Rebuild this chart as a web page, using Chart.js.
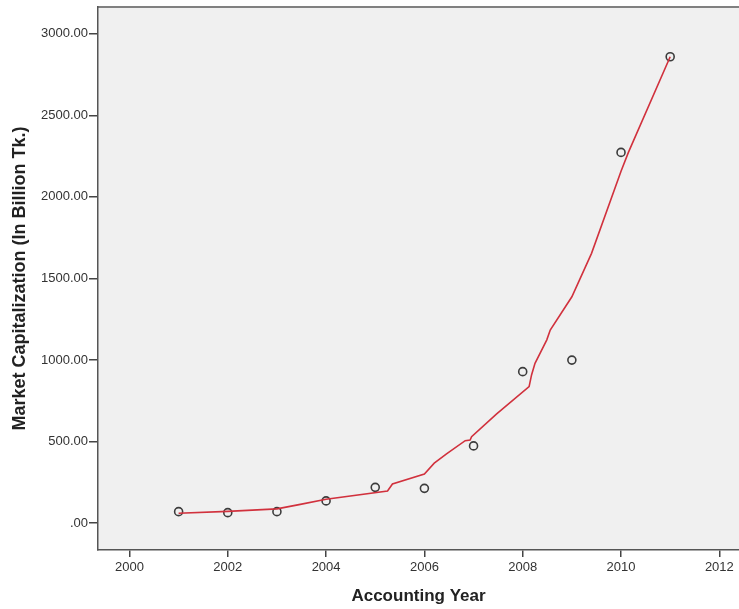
<!DOCTYPE html>
<html>
<head>
<meta charset="utf-8">
<script src="https://cdn.jsdelivr.net/npm/chart.js@4/dist/chart.umd.min.js"></script>
<style>
  html, body { margin: 0; padding: 0; background: #fff; }
  canvas { display: block; }
</style>
</head>
<body>
<canvas id="chart" width="739" height="609"></canvas>
<script>
// observed values (circles)
const years = [2001, 2002, 2003, 2004, 2005, 2006, 2007, 2008, 2009, 2010, 2011];
const marketCap = [71, 65, 71, 137, 220, 214, 474, 929, 1000, 2273, 2859];

// loess fit line
const fitYears = [2001, 2002, 2003, 2003.45, 2004, 2005.25, 2005.35, 2006.0, 2006.2, 2006.45, 2006.83, 2006.93, 2006.96, 2007.47, 2008.13, 2008.18, 2008.25, 2008.49, 2008.56, 2009.0, 2009.4, 2010.0, 2010.15, 2011];
const fitValues = [61, 73, 88, 114, 147, 198, 241, 302, 368, 425, 506, 510, 531, 670, 837, 909, 980, 1124, 1184, 1388, 1654, 2157, 2273, 2859];

const xTicks = [2000, 2002, 2004, 2006, 2008, 2010, 2012];
const yTicks = [0, 500, 1000, 1500, 2000, 2500, 3000];

const frame = {
  id: 'frame',
  beforeDraw(chart) {
    const { ctx, chartArea: a } = chart;
    ctx.save();
    ctx.fillStyle = '#f0f0f0';
    ctx.fillRect(a.left, a.top, a.right - a.left, a.bottom - a.top);
    ctx.strokeStyle = '#808080';
    ctx.lineWidth = 2;
    ctx.beginPath();
    ctx.moveTo(a.left, a.top);
    ctx.lineTo(a.right, a.top);
    ctx.stroke();
    ctx.restore();
  }
};

new Chart(document.getElementById('chart').getContext('2d'), {
  data: {
    datasets: [
      {
        type: 'line',
        label: 'Fit',
        data: fitYears.map((x, i) => ({ x: x, y: fitValues[i] })),
        borderColor: '#d1313d',
        borderWidth: 1.6,
        pointRadius: 0,
        tension: 0,
        fill: false
      },
      {
        type: 'scatter',
        label: 'Market Capitalization',
        data: years.map((x, i) => ({ x: x, y: marketCap[i] })),
        pointStyle: 'circle',
        pointRadius: 4,
        pointBorderWidth: 1.6,
        pointBorderColor: '#3c3c3c',
        pointBackgroundColor: 'rgba(0,0,0,0)'
      }
    ]
  },
  options: {
    responsive: false,
    animation: false,
    layout: { autoPadding: false, padding: { top: 7, right: 0, left: 0, bottom: 0 } },
    plugins: { legend: { display: false }, tooltip: { enabled: false } },
    scales: {
      x: {
        type: 'linear',
        min: 1999.36,
        max: 2012.4,
        afterBuildTicks: s => { s.ticks = xTicks.map(v => ({ value: v })); },
        afterFit: s => { s.height = 59; s.paddingLeft = 0; s.paddingRight = 0; },
        border: { display: true, color: '#555', width: 1.5 },
        grid: { drawOnChartArea: false, drawTicks: true, tickLength: 7, color: '#444', lineWidth: 1.5 },
        ticks: {
          color: '#333',
          font: { family: 'Liberation Sans, Arial, sans-serif', size: 13 },
          padding: 3,
          maxRotation: 0,
          callback: v => String(v)
        },
        title: {
          display: true,
          text: 'Accounting Year',
          color: '#222',
          font: { family: 'Liberation Sans, Arial, sans-serif', size: 17, weight: 'bold' },
          padding: { top: 0, bottom: 2 }
        }
      },
      y: {
        type: 'linear',
        min: -164,
        max: 3164,
        afterBuildTicks: s => { s.ticks = yTicks.map(v => ({ value: v })); },
        afterFit: s => { s.width = 98; s.paddingTop = 0; s.paddingBottom = 0; },
        border: { display: true, color: '#555', width: 1.5 },
        grid: { drawOnChartArea: false, drawTicks: true, tickLength: 9, color: '#444', lineWidth: 1.5 },
        ticks: {
          color: '#333',
          font: { family: 'Liberation Sans, Arial, sans-serif', size: 13 },
          padding: 1,
          callback: v => v === 0 ? '.00' : v.toFixed(2)
        },
        title: {
          display: true,
          text: 'Market Capitalization (In Billion Tk.)',
          color: '#222',
          font: { family: 'Liberation Sans, Arial, sans-serif', size: 18, weight: 'bold' },
          padding: { top: 9, bottom: 0 }
        }
      }
    }
  },
  plugins: [frame]
});
</script>
</body>
</html>
